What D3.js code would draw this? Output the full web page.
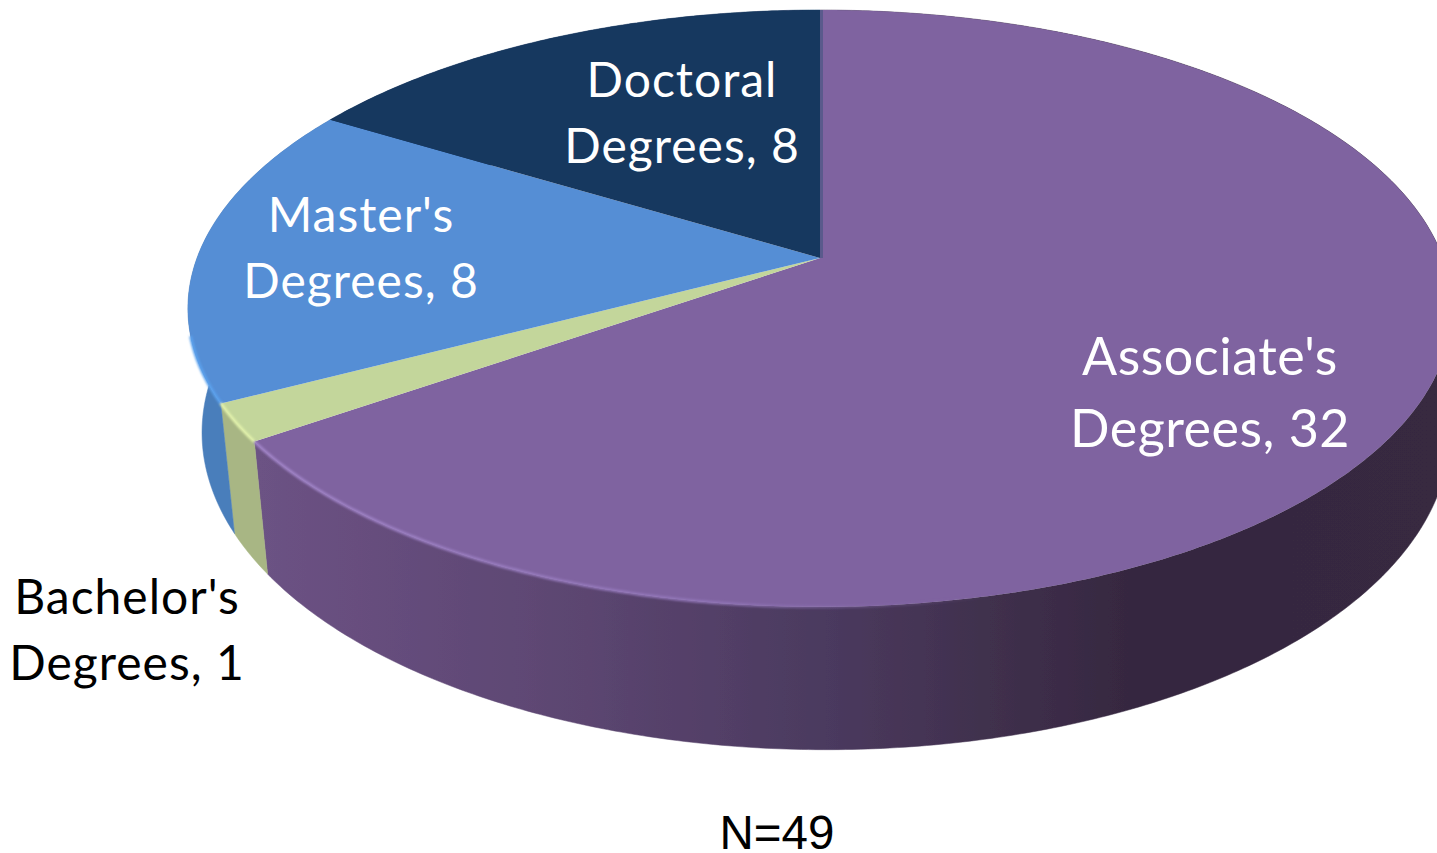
<!DOCTYPE html>
<html>
<head>
<meta charset="utf-8">
<script src="https://d3js.org/d3.v7.min.js"></script>
<style>
	html, body { margin: 0; padding: 0; background: #fff; overflow: hidden; }
	text { font-family: Lato, "Open Sans", sans-serif; }
</style>
</head>
<body>
<svg id="chart" width="1437" height="853"></svg>
<script>
var categories = ["Associate's Degrees", "Bachelor's Degrees", "Master's Degrees", "Doctoral Degrees"];
var values = [32, 1, 8, 8];
var sampleSize = "N=49";

var topColors = ["#7f63a0", "#c3d69b", "#558ed5", "#17375e"];
var wallColors = ["url(#wall_associate)", "#a8b684", "#4a7ebb", "#17375e"];
var labelColors = ["#fff", "#000", "#fff", "#fff"];
var labelStyle = [
	{ x: 1210, y: 375, gap: 72, size: 52, spacing: 0.5 },
	{ x: 127, y: 614, gap: 66, size: 48, spacing: 1 },
	{ x: 361, y: 232, gap: 66, size: 48, spacing: 1 },
	{ x: 682, y: 97, gap: 66, size: 48, spacing: 1 }
];

var svg = d3.select("#chart");

// the pie is tilted with some perspective, so the centre is not the middle of the ellipse
var lean = 0.169;
var topRim = { cx: 820, cy: 258, rx: 623, ry: 246.3 };
var baseRim = { cx: 826, cy: 379, rx: 615, ry: 244 };

function project(rim, angle) {
	var u = Math.sin(angle),
		v = -Math.cos(angle),
		w = 1 - lean * v;
	return [rim.cx + rim.rx * u / w, (rim.cy + rim.ry * v) / w];
}

function rimPoints(rim, start, end) {
	var steps = Math.max(2, Math.ceil((end - start) / 0.01));
	var angle = d3.scaleLinear().domain([0, steps]).range([start, end]);
	return d3.range(steps + 1).map(function(i) {
		return project(rim, angle(i));
	});
}

var line = d3.line();
var arcs = d3.pie().sort(null)(values);

var defs = svg.append("defs");
var wallGradient = defs.append("linearGradient")
	.attr("id", "wall_associate")
	.attr("gradientUnits", "userSpaceOnUse")
	.attr("x1", 258).attr("x2", 1437).attr("y1", 0).attr("y2", 0);
[[0, "#6c5284"], [0.28, "#5b4570"], [0.48, "#4b3a5f"], [0.62, "#40304d"], [0.75, "#35273f"], [1, "#372941"]].forEach(function(s) {
	wallGradient.append("stop").attr("offset", s[0]).attr("stop-color", s[1]);
});
var shineGradient = defs.append("linearGradient")
	.attr("id", "rim_shine")
	.attr("gradientUnits", "userSpaceOnUse")
	.attr("x1", 258).attr("x2", 1000).attr("y1", 0).attr("y2", 0);
[[0, "#a184c8", 1], [0.6, "#9377ba", 0.9], [1, "#7f63a0", 0]].forEach(function(s) {
	shineGradient.append("stop").attr("offset", s[0]).attr("stop-color", s[1]).attr("stop-opacity", s[2]);
});
defs.append("filter").attr("id", "soft")
	.attr("x", "-5%").attr("y", "-5%").attr("width", "110%").attr("height", "110%")
	.append("feGaussianBlur").attr("stdDeviation", 0.7);
defs.append("filter").attr("id", "softer")
	.attr("x", "-20%").attr("y", "-20%").attr("width", "140%").attr("height", "140%")
	.append("feGaussianBlur").attr("stdDeviation", 1.3);

var pie = svg.append("g").attr("filter", "url(#soft)");

// walls first, the top faces hide whatever is at the back
pie.append("g").selectAll("path")
	.data(arcs)
	.enter().append("path")
	.attr("d", function(d) {
		var front = rimPoints(topRim, d.startAngle, d.endAngle);
		var back = rimPoints(baseRim, d.startAngle, d.endAngle).reverse();
		return line(front.concat(back)) + "Z";
	})
	.attr("fill", function(d, i) { return wallColors[i]; })
	.attr("stroke", function(d, i) { return wallColors[i]; })
	.attr("stroke-width", 0.5);

pie.append("g").selectAll("path")
	.data(arcs)
	.enter().append("path")
	.attr("d", function(d) {
		return line([[topRim.cx, topRim.cy]].concat(rimPoints(topRim, d.startAngle, d.endAngle))) + "Z";
	})
	.attr("fill", function(d, i) { return topColors[i]; });

// light bevel along the front of the rim
var shine = svg.append("g").attr("filter", "url(#softer)").attr("fill", "none");
shine.append("path")
	.attr("d", line(rimPoints(topRim, 2.6, arcs[0].endAngle)))
	.attr("stroke", "url(#rim_shine)")
	.attr("stroke-width", 3);
shine.append("path")
	.attr("d", line(rimPoints(topRim, arcs[1].startAngle, arcs[1].endAngle)))
	.attr("stroke", "#e2f2ab")
	.attr("stroke-width", 3);
shine.append("path")
	.attr("d", line(rimPoints(topRim, arcs[2].startAngle, arcs[2].startAngle + 0.22)))
	.attr("stroke", "#5ba2ee")
	.attr("stroke-width", 3);

// seam between the doctoral and associate slices
pie.append("path")
	.attr("d", line([[topRim.cx + 1.5, topRim.cy], [topRim.cx + 1.5, project(topRim, 0)[1]]]))
	.attr("stroke", "#5a5a8c")
	.attr("stroke-width", 3);

var labels = svg.append("g").selectAll("text")
	.data(categories)
	.enter().append("text")
	.attr("text-anchor", "middle")
	.attr("fill", function(d, i) { return labelColors[i]; })
	.attr("font-size", function(d, i) { return labelStyle[i].size; })
	.attr("letter-spacing", function(d, i) { return labelStyle[i].spacing; })
	.attr("y", function(d, i) { return labelStyle[i].y; });

labels.each(function(d, i) {
	var words = d.split(" ");
	var s = labelStyle[i];
	d3.select(this).append("tspan").attr("x", s.x).text(words[0]);
	d3.select(this).append("tspan").attr("x", s.x).attr("dy", s.gap).text(words[1] + ", " + values[i]);
});

svg.append("text")
	.attr("x", 777)
	.attr("y", 849)
	.attr("text-anchor", "middle")
	.attr("font-size", 47.5)
	.style("font-family", "'Liberation Sans', Arial, sans-serif")
	.attr("fill", "#000")
	.text(sampleSize);
</script>
</body>
</html>
